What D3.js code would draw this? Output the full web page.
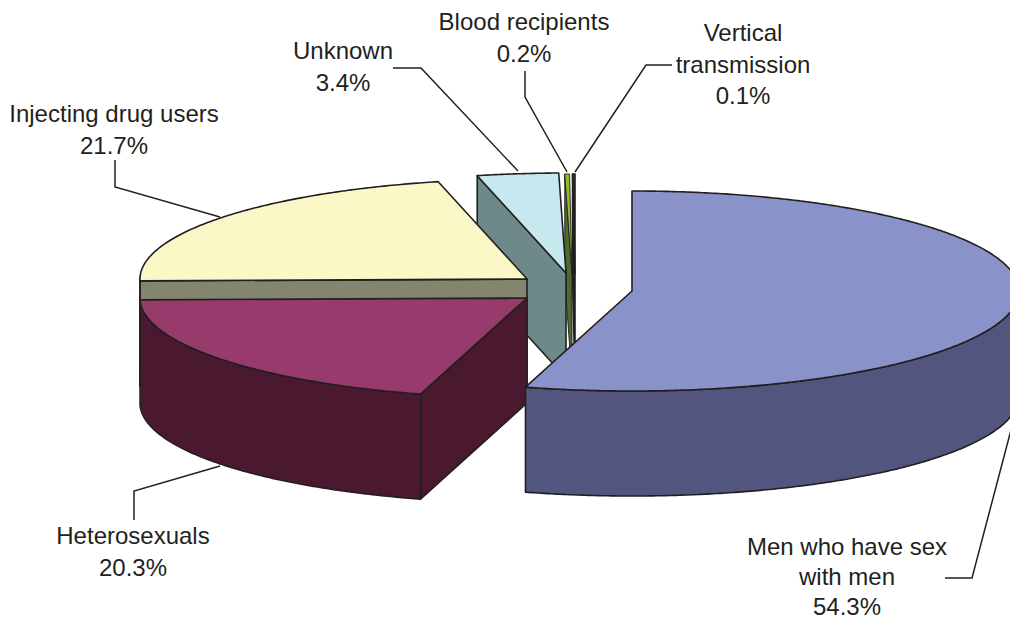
<!DOCTYPE html>
<html>
<head>
<meta charset="utf-8">
<script src="https://cdn.jsdelivr.net/npm/d3@7"></script>
<style>
html,body{margin:0;padding:0;background:#fff;overflow:hidden}
svg{display:block}
text{font-family:"Liberation Sans",Arial,sans-serif;font-size:24px;fill:#231f20;text-anchor:middle}
</style>
</head>
<body>
<svg id="chart" width="1010" height="620"></svg>
<script>
// Data, clockwise from 12 o'clock
const categories = ["Men who have sex with men", "Heterosexuals", "Injecting drug users", "Unknown", "Blood recipients", "Vertical transmission"];
const shares = [54.3, 20.3, 21.7, 3.4, 0.2, 0.1];
const shareLabels = ["54.3%", "20.3%", "21.7%", "3.4%", "0.2%", "0.1%"];
const topColors = ["#8a93c9", "#973a6c", "#fbf8c8", "#c8e8ef", "#8fbe30", "#3a3a2a"];
const faceColors = ["#52567f", "#4a182f", "#84856f", "#6d8a88", "#4f6a2f", "#231f20"];

// Layout
const W = 1010, H = 620;
const rx = 387, ry = 100, depth = 105;
const warp = 0.5 * Math.PI / 180;
const apexX = [632, 527, 527, 566, 572, 575];
const apexY = [291, 298, 279, 273, 274, 274];
const strokeW = [1.6, 1.6, 1.6, 1.6, 0.9, 1.6];
const labelLines = [
  ["Men who have sex", "with men", "54.3%"],
  ["Heterosexuals", "20.3%"],
  ["Injecting drug users", "21.7%"],
  ["Unknown", "3.4%"],
  ["Blood recipients", "0.2%"],
  ["Vertical", "transmission", "0.1%"]
];
const labelX = [847, 133, 114, 343, 524, 743];
const labelY = [555, 544, 122, 59, 30, 41];
const labelStep = [30, 31.5, 31.5, 31.5, 31.5, 31.5];
const leaders = [
  [[945, 578], [972, 578], [1011, 430]],
  [[134, 520], [134, 491], [220, 466]],
  [[115, 160], [115, 187], [220, 217]],
  [[393, 68], [421, 68], [518, 171]],
  [[525, 71], [525, 97], [567, 172]],
  [[672, 65], [646, 65], [575, 172]]
];
const INK = "#231f20";

const svg = d3.select("#chart").attr("viewBox", `0 0 ${W} ${H}`);
const pie = d3.pie().sort(null).value(d => d);
const arcs = pie(shares);
const line = d3.line();
const closed = pts => line(pts) + "Z";

function rim(i, a, dy = 0) {
  const b = a + warp * Math.sin(a / 2);
  return [apexX[i] + rx * Math.sin(b), apexY[i] - ry * Math.cos(b) + dy];
}
function arcPts(i, a0, a1, dy = 0) {
  const n = Math.max(2, Math.ceil(Math.abs(a1 - a0) * 120));
  return d3.range(n + 1).map(k => rim(i, a0 + (a1 - a0) * k / n, dy));
}

const gSlices = svg.append("g")
  .attr("stroke", INK).attr("stroke-linejoin", "round");

// paint far slices first, the front slices last
d3.range(arcs.length).reverse().forEach(i => {
  const { startAngle: a0, endAngle: a1 } = arcs[i];
  const g = gSlices.append("g").attr("data-name", categories[i]).attr("stroke-width", strokeW[i]);
  const apex = [apexX[i], apexY[i]];
  const apexLow = [apexX[i], apexY[i] + depth];

  // cut face at the start of the slice, when it turns to the viewer
  if (a0 > Math.PI) {
    g.append("path")
      .attr("d", closed([apex, rim(i, a0), rim(i, a0, depth), apexLow]))
      .attr("fill", faceColors[i]);
  }
  // outer wall, only on the front half of the ellipse
  const w0 = Math.max(a0, Math.PI / 2), w1 = Math.min(a1, 3 * Math.PI / 2);
  if (w1 > w0) {
    g.append("path")
      .attr("d", closed([...arcPts(i, w0, w1), ...arcPts(i, w1, w0, depth)]))
      .attr("fill", faceColors[i]);
  }
  // top surface
  g.append("path")
    .attr("d", closed([apex, ...arcPts(i, a0, a1)]))
    .attr("fill", topColors[i]);
});

// leader lines
svg.append("g").selectAll("path").data(leaders).join("path")
  .attr("d", d => line(d))
  .attr("fill", "none").attr("stroke", INK).attr("stroke-width", 1.5);

// labels
const gLabels = svg.append("g");
labelLines.forEach((lines, i) => {
  const t = gLabels.append("text").attr("x", labelX[i]).attr("y", labelY[i]);
  lines.forEach((s, k) => {
    t.append("tspan").attr("x", labelX[i]).attr("y", labelY[i] + k * labelStep[i]).text(s);
  });
});
</script>
</body>
</html>
